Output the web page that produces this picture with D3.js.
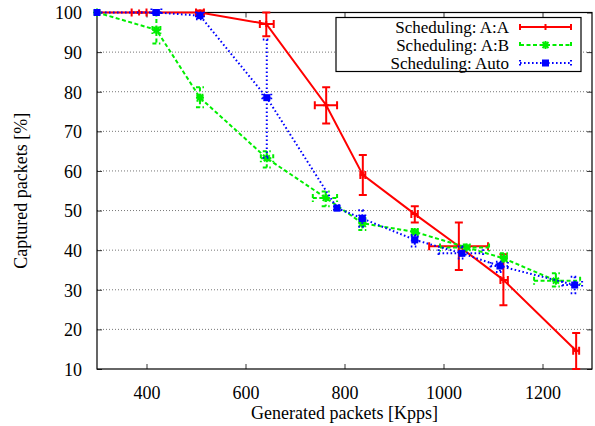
<!DOCTYPE html>
<html><head><meta charset="utf-8">
<script src="https://cdn.jsdelivr.net/npm/d3@7"></script>
<style>body{margin:0;background:#fff}svg{display:block}svg text{font-family:"Liberation Serif","DejaVu Serif",serif !important;fill:#000}</style>
</head><body>
<svg id="c" width="595" height="426"></svg>
<script>
const xTicks = [400, 600, 800, 1000, 1200];
const yTicks = [10, 20, 30, 40, 50, 60, 70, 80, 90, 100];
const seriesNames = ["Scheduling: A:A", "Scheduling: A:B", "Scheduling: Auto"];

const aaX   = [300, 385, 508, 642, 763, 837, 942, 1031, 1121, 1268];
const aaY   = [100, 100, 100, 97.1, 76.6, 59.0, 49.1, 41.0, 32.5, 14.6];
const aaXlo = [300, 370, 500, 629, 740, 832, 935, 971, 1115, 1262];
const aaXhi = [300, 400, 516, 657, 785, 842, 948, 1090, 1130, 1274];
const aaYlo = [100, 100, 99.5, 94, 72, 53.9, 47.0, 35.0, 26.1, 10];
const aaYhi = [100, 100, 100.5, 100, 81.1, 64.0, 51.1, 47.0, 39.0, 19.1];

const abX   = [300, 420, 508, 643, 762, 836, 942, 1047, 1122, 1227];
const abY   = [100, 95.6, 78.5, 63.2, 53.2, 46.8, 44.6, 40.7, 37.9, 32.3];
const abXlo = [300, 412, 503, 631, 736, 830, 936, 993, 1116, 1183];
const abXhi = [300, 428, 513, 656, 785, 842, 948, 1092, 1128, 1276];
const abYlo = [100, 92.2, 76.1, 60.9, 51.1, 45.1, 44.0, 40.0, 37.1, 30.8];
const abYhi = [100, 100, 81.1, 65.0, 54.8, 48.1, 45.2, 41.4, 39.2, 34.2];

const auX   = [300, 420, 508, 643, 785, 836, 942, 1037, 1114, 1265];
const auY   = [100, 100, 99.2, 78.5, 50.6, 48.0, 42.6, 39.2, 36.0, 31.2];
const auXlo = [300, 410, 500, 634, 782, 830, 936, 990, 1095, 1240];
const auXhi = [300, 430, 516, 652, 789, 842, 948, 1080, 1130, 1280];
const auYlo = [100, 99.5, 98.3, 63.3, 50.2, 45.9, 40.9, 37.9, 34.5, 29.1];
const auYhi = [100, 100.5, 100, 93.2, 51.0, 50.1, 43.8, 40.9, 37.1, 33.3];

const FONT = '"Liberation Serif", "DejaVu Serif", serif';
const L = 97, R = 592, T = 12.5, B = 369;
const x = d3.scaleLinear().domain([300, 1300]).range([L, R]);
const y = d3.scaleLinear().domain([10, 100]).range([B, T]);
const svg = d3.select("#c");

// grid
svg.append("g").selectAll("line").data(yTicks.filter(v => v > 10 && v < 100)).join("line")
  .attr("x1", L).attr("x2", R).attr("y1", d => y(d)).attr("y2", d => y(d))
  .attr("stroke", "#777").attr("stroke-width", 1).attr("stroke-dasharray", "1,2");

// axes with inward ticks
const tl = 5;
const gx = svg.append("g").attr("transform", `translate(0,${B})`)
  .call(d3.axisBottom(x).tickValues(xTicks).tickSize(-tl).tickPadding(tl + 12).tickFormat(d3.format("d")));
const gxt = svg.append("g").attr("transform", `translate(0,${T})`)
  .call(d3.axisTop(x).tickValues(xTicks).tickSize(-tl).tickFormat(""));
const gy = svg.append("g").attr("transform", `translate(${L},0)`)
  .call(d3.axisLeft(y).tickValues(yTicks).tickSize(-tl).tickPadding(tl + 10).tickFormat(d3.format("d")));
const gyr = svg.append("g").attr("transform", `translate(${R},0)`)
  .call(d3.axisRight(y).tickValues(yTicks).tickSize(-tl).tickFormat(""));
[gx, gxt, gy, gyr].forEach(g => {
  g.attr("font-family", FONT).attr("font-size", 18);
  g.select(".domain").remove(); g.selectAll("line").attr("stroke", "#333");
});
gx.selectAll("text").style("font-family", FONT).style("font-size", "18px");
gy.selectAll("text").style("font-family", FONT).style("font-size", "18px").attr("dy", "0.35em");

svg.append("rect").attr("x", L).attr("y", T).attr("width", R - L).attr("height", B - T)
  .attr("fill", "none").attr("stroke", "#000").attr("stroke-width", 1.2);

svg.append("text").attr("x", (L + R) / 2).attr("y", 419).attr("text-anchor", "middle")
  .style("font-family", FONT).style("font-size", "18px").text("Generated packets [Kpps]");
svg.append("text").attr("transform", `translate(27,${(T + B) / 2}) rotate(-90)`).attr("text-anchor", "middle")
  .style("font-family", FONT).style("font-size", "18px").text("Captured packets [%]");

const series = [
  {name: seriesNames[0], color: "#ff0000", dash: null, marker: "plus", X: aaX, Y: aaY, Xlo: aaXlo, Xhi: aaXhi, Ylo: aaYlo, Yhi: aaYhi},
  {name: seriesNames[1], color: "#00ee00", dash: "4,2.5", marker: "star", X: abX, Y: abY, Xlo: abXlo, Xhi: abXhi, Ylo: abYlo, Yhi: abYhi},
  {name: seriesNames[2], color: "#0000ff", dash: "1.6,2.4", marker: "square", X: auX, Y: auY, Xlo: auXlo, Xhi: auXhi, Ylo: auYlo, Yhi: auYhi}
];

const cap = 4;
function drawMarker(g, type, px, py, color) {
  if (type === "plus") {
    g.append("path").attr("d", `M${px-3},${py}H${px+3}M${px},${py-3}V${py+3}`).attr("stroke", color).attr("stroke-width", 2);
  } else if (type === "star") {
    const s = 4;
    g.append("path").attr("d", `M${px-s},${py}H${px+s}M${px},${py-s}V${py+s}M${px-s*0.75},${py-s*0.75}L${px+s*0.75},${py+s*0.75}M${px-s*0.75},${py+s*0.75}L${px+s*0.75},${py-s*0.75}`)
      .attr("stroke", color).attr("stroke-width", 2);
  } else {
    g.append("rect").attr("x", px - 3.5).attr("y", py - 3.5).attr("width", 7).attr("height", 7).attr("fill", color);
  }
}

series.forEach(s => {
  const g = svg.append("g");
  const pts = s.X.map((v, i) => [v, s.Y[i]]);
  g.append("path").datum(pts)
    .attr("d", d3.line().x(d => x(d[0])).y(d => y(d[1])))
    .attr("fill", "none").attr("stroke", s.color).attr("stroke-width", 2)
    .attr("stroke-dasharray", s.dash);
  s.X.forEach((v, i) => {
    const px = x(v), py = y(s.Y[i]);
    let d = "";
    if (s.Yhi[i] > s.Ylo[i]) {
      const y1 = y(s.Yhi[i]), y2 = y(s.Ylo[i]);
      d += `M${px},${y1}V${y2}M${px-cap},${y1}H${px+cap}M${px-cap},${y2}H${px+cap}`;
    }
    if (s.Xhi[i] > s.Xlo[i]) {
      const x1 = x(s.Xlo[i]), x2 = x(s.Xhi[i]);
      d += `M${x1},${py}H${x2}M${x1},${py-cap}V${py+cap}M${x2},${py-cap}V${py+cap}`;
    }
    if (d) g.append("path").attr("d", d).attr("fill", "none").attr("stroke", s.color)
      .attr("stroke-width", 2).attr("stroke-dasharray", s.dash);
    drawMarker(g, s.marker, px, py, s.color);
  });
});

// legend
const lg = svg.append("g");
lg.append("rect").attr("x", 336).attr("y", 17.5).attr("width", 245).attr("height", 54)
  .attr("fill", "#fff").attr("stroke", "#000").attr("stroke-width", 1.2);
series.forEach((s, i) => {
  const ly = 27 + i * 18;
  lg.append("text").attr("x", 509).attr("y", ly).attr("dy", "0.35em").attr("text-anchor", "end")
    .style("font-family", FONT).style("font-size", "17px").text(s.name);
  lg.append("path").attr("d", `M520,${ly}H571M520,${ly-3}V${ly+3}M571,${ly-3}V${ly+3}`)
    .attr("stroke", s.color).attr("stroke-width", 2).attr("fill", "none").attr("stroke-dasharray", s.dash);
  drawMarker(lg, s.marker, 545.5, ly, s.color);
});
</script>
</body></html>
